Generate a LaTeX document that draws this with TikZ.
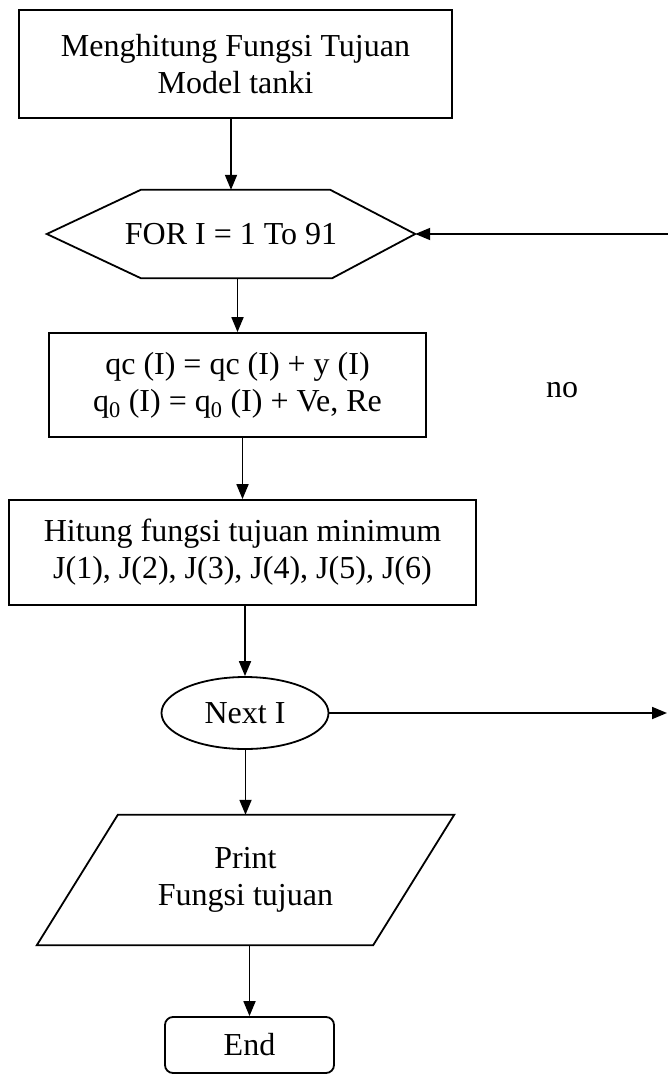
\documentclass[tikz,border=0pt]{standalone}
\usepackage{fontspec}
\setmainfont{Liberation Serif}
\usetikzlibrary{arrows.meta,shapes.geometric}
\begin{document}
\begin{tikzpicture}[x=1pt,y=-1pt,
  every node/.style={font=\fontsize{32}{37}\selectfont, inner sep=0pt, align=center},
  line/.style={line width=1.8pt},
  arr/.style={line width=1.8pt, -{Triangle[length=15pt,width=12pt]}},
  procbox/.style={draw, line width=1.8pt, minimum width=#1},
  hidden/.style={draw=none}
]
\useasboundingbox (0,0) rectangle (668,1075);

\node[procbox=433pt, minimum height=108pt] (b1) at (235.5,64) {Menghitung Fungsi Tujuan\\Model tanki};

\node[hidden, minimum width=368pt, minimum height=88pt] (for) at (231,234) {FOR I = 1 To 91};
\draw[line] (for.west) -- ([xshift=94pt]for.north west) -- ([xshift=-85pt]for.north east)
  -- (for.east) -- ([xshift=-83pt]for.south east) -- ([xshift=94pt]for.south west) -- cycle;

\node[procbox=377pt, minimum height=104pt] (b2) at (237.5,385)
  {qc (I) = qc (I) + y (I)\\q\textsubscript{0} (I) = q\textsubscript{0} (I) + Ve, Re};

\node (no) at (562,390) {no};

\node[procbox=467pt, minimum height=105pt] (b3) at (242.5,552.5)
  {Hitung fungsi tujuan minimum\\J(1), J(2), J(3), J(4), J(5), J(6)};

\node[draw, ellipse, line width=1.8pt, minimum width=167pt, minimum height=72pt] (nx) at (245,713) {Next I};

\node[hidden, minimum width=417pt, minimum height=130pt] (pr) at (245.5,880) {Print\\Fungsi tujuan};
\draw[line] ([xshift=81pt]pr.north west) -- (pr.north east) -- ([xshift=-81pt]pr.south east)
  -- (pr.south west) -- cycle;

\node[draw, line width=1.8pt, rounded corners=8pt, minimum width=169pt, minimum height=56pt] (en) at (249.5,1045) {End};

\coordinate (r1) at (668,234);
\coordinate (r2) at (667,713);

\draw[arr] (b1.south -| for.north) -- (for.north);
\draw[arr] (for.south -| b2.north) -- (b2.north);
\draw[arr] (b2.south -| b3.north) -- (b3.north);
\draw[arr] (b3.south -| nx.north) -- (nx.north);
\draw[arr] (nx.south -| pr.north) -- (pr.north);
\draw[arr] (pr.south -| en.north) -- (en.north);
\draw[arr] (r1) -- (for.east);
\draw[arr] (nx.east) -- (r2);
\end{tikzpicture}
\end{document}
